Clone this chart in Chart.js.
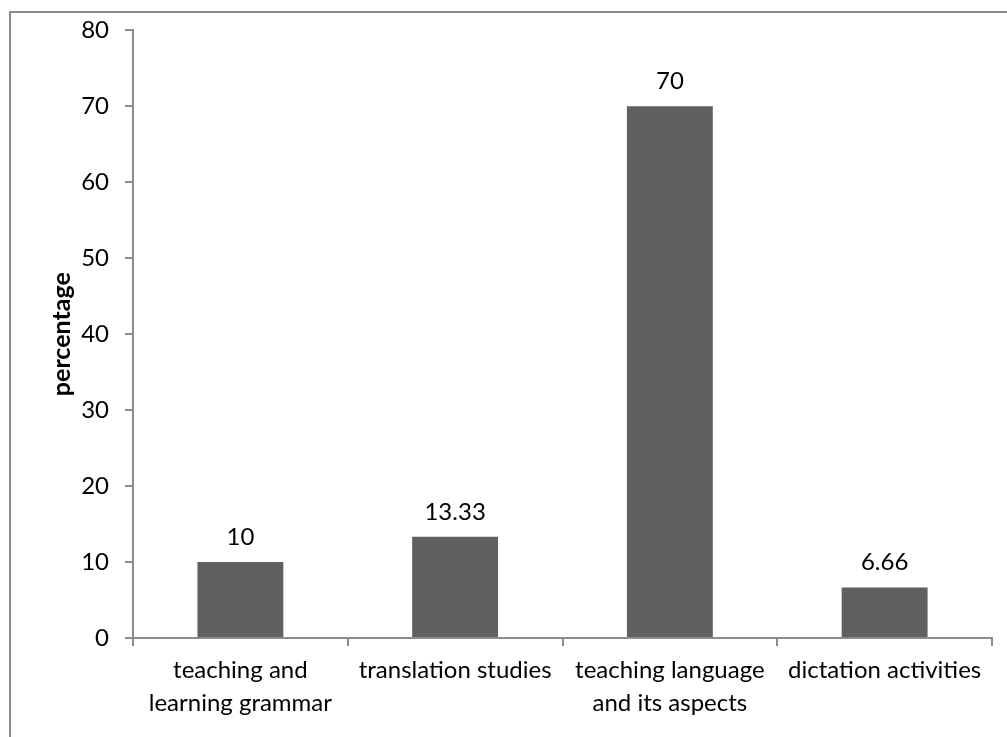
<!DOCTYPE html>
<html>
<head>
<meta charset="utf-8">
<script src="https://cdn.jsdelivr.net/npm/chart.js@4.4.0/dist/chart.umd.min.js"></script>
<style>
  html, body { margin: 0; padding: 0; background: #fff; overflow: hidden; }
  #frame { position: absolute; left: 9px; top: 11px; width: 1100px; height: 800px; border: 2px solid #8c8c8c; }
  #wrap { position: absolute; left: 0; top: 0; width: 1007px; height: 737px; }
</style>
</head>
<body>
<div id="frame"></div>
<div id="wrap"><canvas id="barChart" width="1007" height="737"></canvas></div>
<script>
const categories = [
    ['teaching and', 'learning grammar'],
    'translation studies',
    ['teaching language', 'and its aspects'],
    'dictation activities'
];
const percentages = [10, 13.33, 70, 6.66];
const yTicks = [0, 10, 20, 30, 40, 50, 60, 70, 80];

const FONT = 'Lato, "Liberation Sans", sans-serif';
const axisGrey = '#8c8c8c';

// value labels above each bar
const valueLabels = {
    id: 'valueLabels',
    afterDatasetsDraw(chart) {
        const ctx = chart.ctx;
        const meta = chart.getDatasetMeta(0);
        ctx.save();
        ctx.font = '24px ' + FONT;
        ctx.fillStyle = '#000';
        ctx.textAlign = 'center';
        ctx.textBaseline = 'alphabetic';
        meta.data.forEach(function (bar, i) {
            ctx.fillText(String(percentages[i]), bar.x, bar.y - 17);
        });
        ctx.restore();
    }
};

window.onload = function () {
    const ctx = document.getElementById('barChart').getContext('2d');

    new Chart(ctx, {
        type: 'bar',
        data: {
            labels: categories,
            datasets: [{
                data: percentages,
                backgroundColor: '#606060',
                borderWidth: 0,
                categoryPercentage: 1.0,
                barPercentage: 0.4
            }]
        },
        options: {
            responsive: false,
            animation: false,
            layout: { padding: { left: 0, right: 15, top: 30, bottom: 0 } },
            plugins: {
                legend: { display: false },
                tooltip: { enabled: false }
            },
            scales: {
                x: {
                    afterFit: function (scale) { scale.height = 99; },
                    grid: {
                        display: true,
                        drawOnChartArea: false,
                        drawTicks: true,
                        tickLength: 8,
                        color: axisGrey,
                        lineWidth: 2,
                        offset: true
                    },
                    border: { color: axisGrey, width: 2 },
                    ticks: {
                        color: '#000',
                        font: { family: FONT, size: 24, lineHeight: 1.375 },
                        maxRotation: 0,
                        autoSkip: false,
                        padding: 8
                    }
                },
                y: {
                    min: 0,
                    max: 80,
                    afterFit: function (scale) { scale.width = 133; },
                    afterBuildTicks: function (scale) {
                        scale.ticks = yTicks.map(function (v) { return { value: v }; });
                    },
                    grid: {
                        display: true,
                        drawOnChartArea: false,
                        drawTicks: true,
                        tickLength: 8,
                        color: axisGrey,
                        lineWidth: 2
                    },
                    border: { color: axisGrey, width: 2 },
                    ticks: {
                        color: '#000',
                        font: { family: FONT, size: 24 },
                        padding: 16
                    },
                    title: {
                        display: true,
                        text: 'percentage',
                        color: '#000',
                        font: { family: FONT, size: 25, weight: 'bold' },
                        padding: { top: 47, bottom: 0 }
                    }
                }
            }
        },
        plugins: [valueLabels]
    });
};
</script>
</body>
</html>
